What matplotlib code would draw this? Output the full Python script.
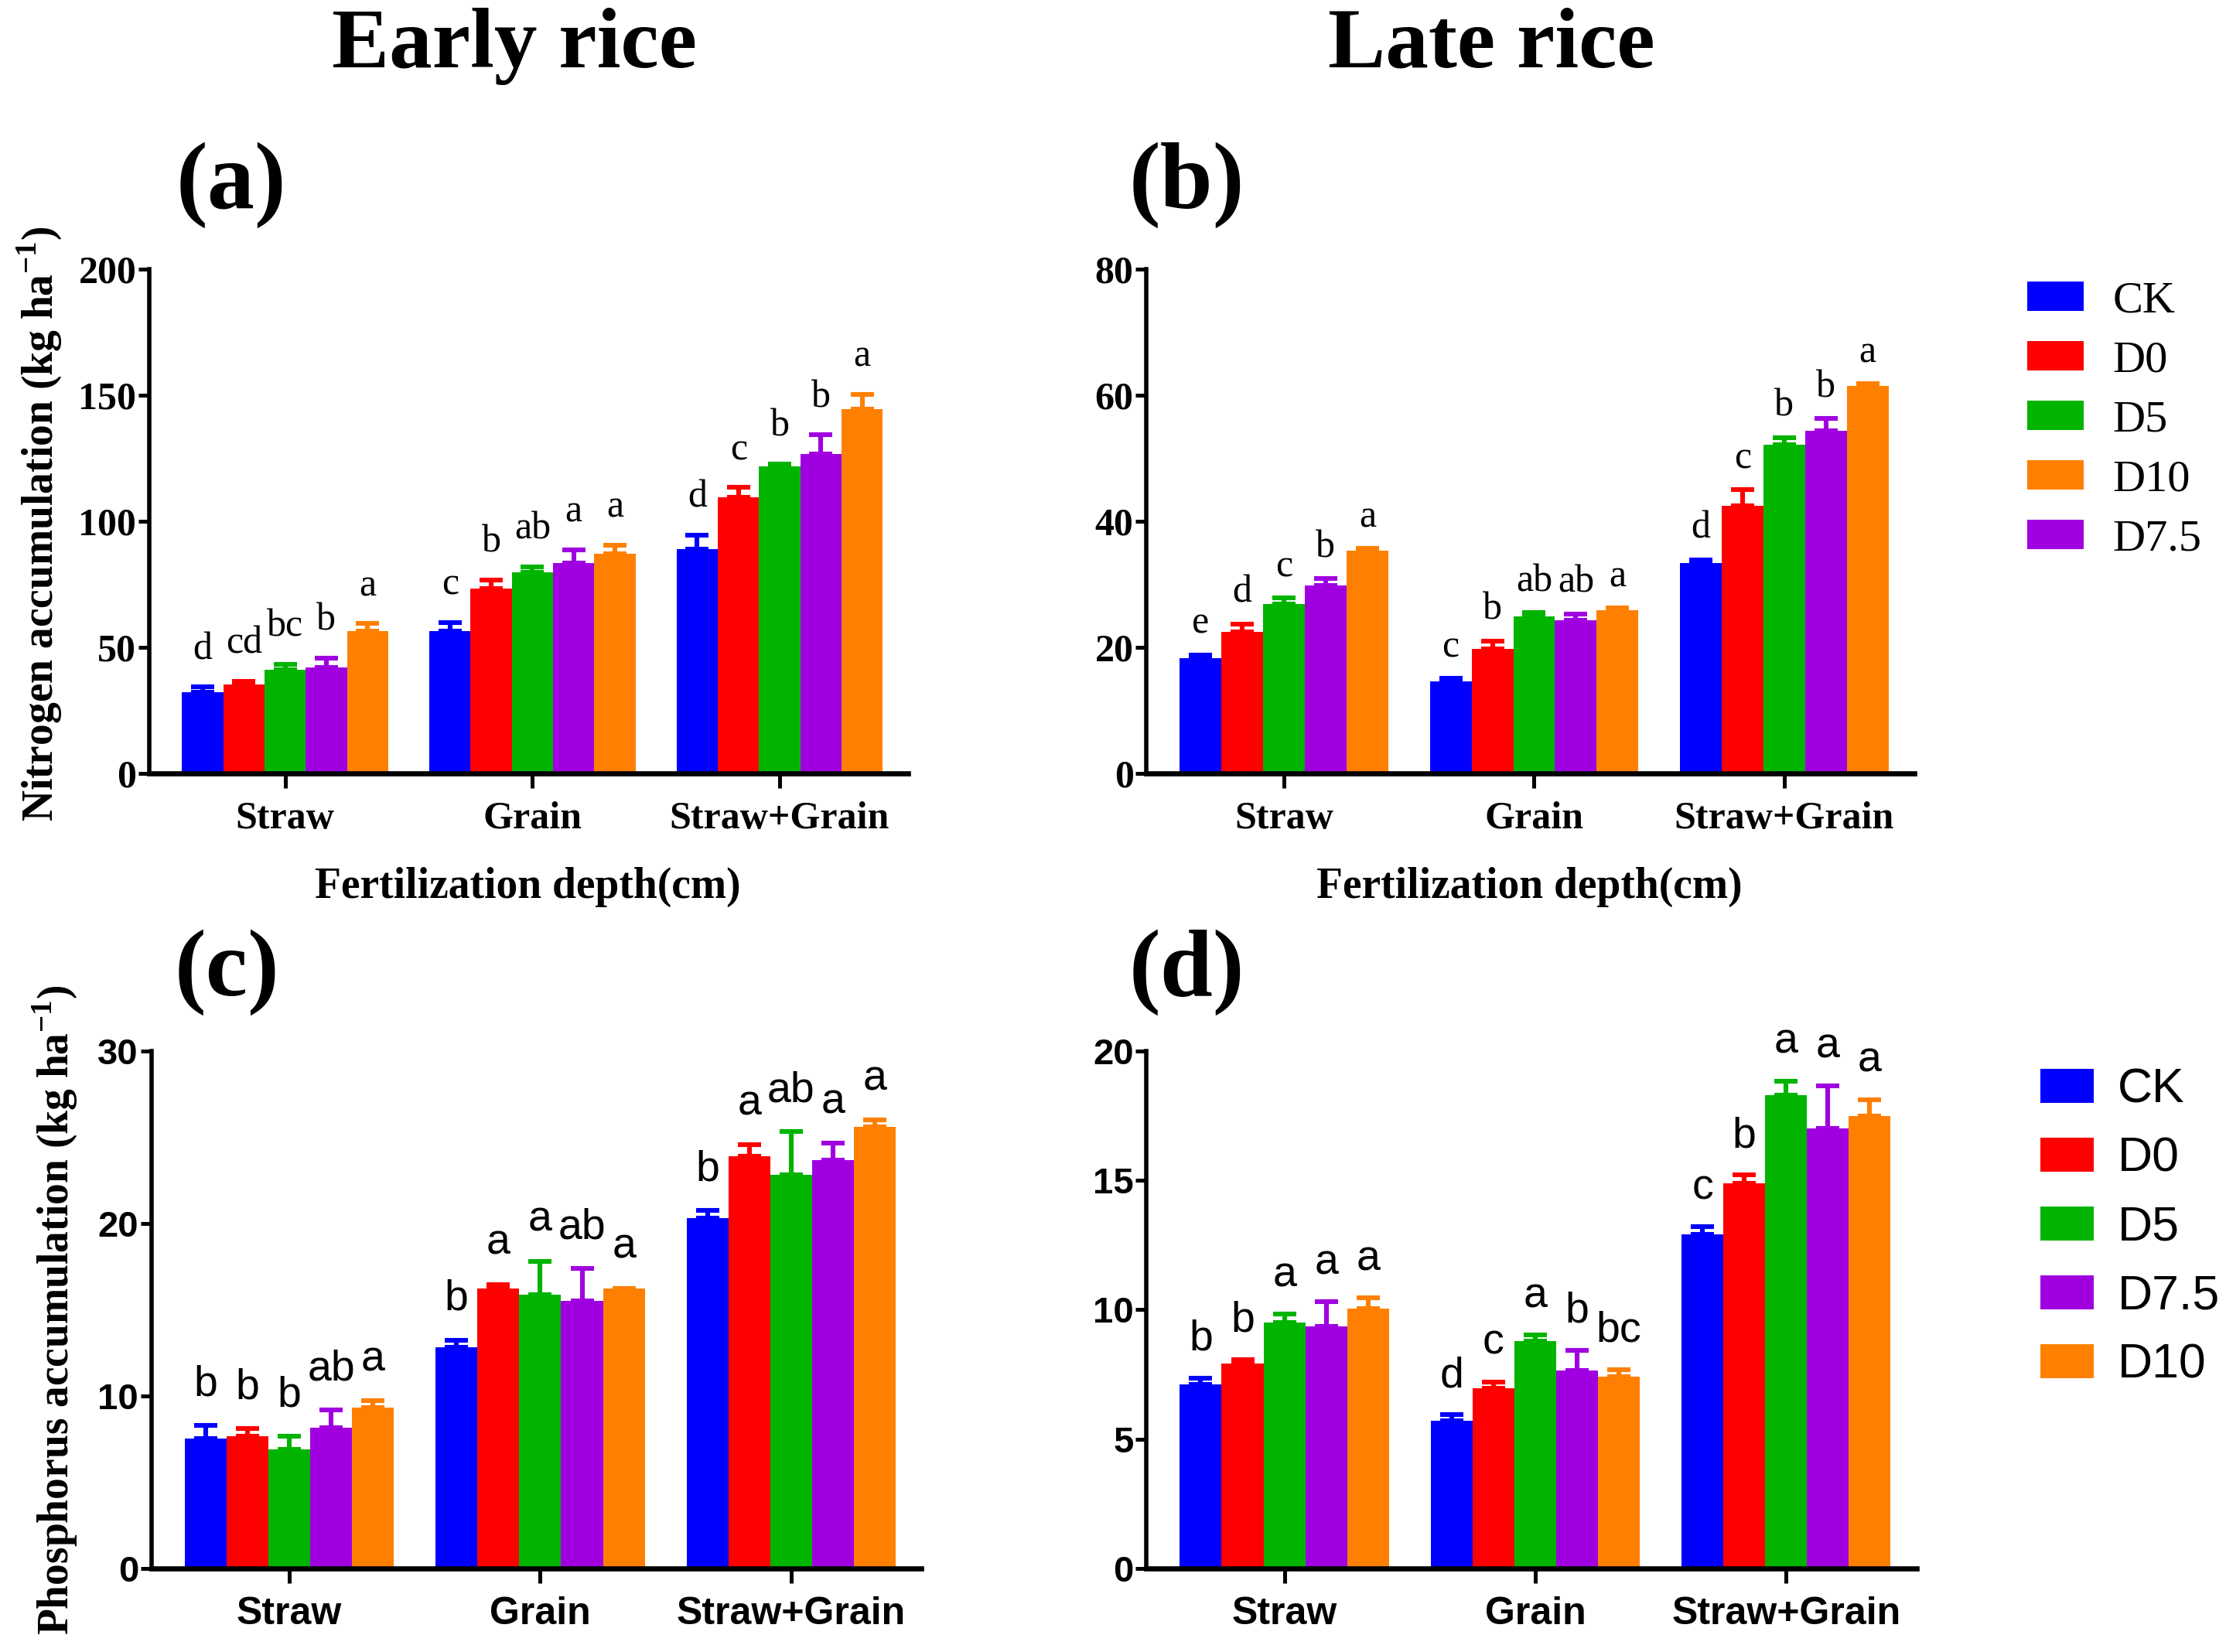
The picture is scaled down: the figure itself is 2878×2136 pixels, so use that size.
import matplotlib.pyplot as plt
import numpy as np

plt.rcParams['mathtext.fontset'] = 'custom'
plt.rcParams['mathtext.rm'] = 'Liberation Serif'
plt.rcParams['mathtext.bf'] = 'Liberation Serif:bold'

SERIF = 'Liberation Serif'
SANS = 'Liberation Sans'

parts = ['Straw', 'Grain', 'Straw+Grain']
treatments = ['CK', 'D0', 'D5', 'D7.5', 'D10']
colors = ['#0000ff', '#ff0000', '#00b400', '#a000e0', '#ff8000']

# rows = treatments (CK, D0, D5, D7.5, D10), cols = Straw, Grain, Straw+Grain
n_early = [[32.0, 56.4, 89.0],
           [35.1, 73.2, 109.4],
           [40.9, 79.8, 121.7],
           [42.0, 83.5, 126.8],
           [56.4, 87.1, 144.4]]
n_early_err = [[2.2, 3.4, 5.5],
               [1.4, 3.5, 4.0],
               [2.4, 2.1, 1.1],
               [3.7, 5.2, 7.5],
               [3.0, 3.5, 6.0]]
n_early_let = [['d', 'c', 'd'],
               ['cd', 'b', 'c'],
               ['bc', 'ab', 'b'],
               ['b', 'a', 'b'],
               ['a', 'a', 'a']]

n_late = [[18.3, 14.6, 33.3],
          [22.4, 19.7, 42.5],
          [26.9, 24.9, 52.2],
          [29.8, 24.3, 54.4],
          [35.3, 25.9, 61.5]]
n_late_err = [[0.5, 0.4, 0.6],
              [1.3, 1.3, 2.5],
              [0.9, 0.6, 1.1],
              [1.1, 1.0, 1.9],
              [0.4, 0.3, 0.3]]
n_late_let = [['e', 'c', 'd'],
              ['d', 'b', 'c'],
              ['c', 'ab', 'b'],
              ['b', 'ab', 'b'],
              ['a', 'a', 'a']]

p_early = [[7.52, 12.81, 20.33],
           [7.65, 16.25, 23.90],
           [6.90, 15.85, 22.83],
           [8.14, 15.52, 23.69],
           [9.32, 16.25, 25.60]]
p_early_err = [[0.75, 0.43, 0.43],
               [0.46, 0.21, 0.68],
               [0.75, 1.96, 2.50],
               [1.05, 1.86, 0.97],
               [0.40, 0.00, 0.40]]
p_early_let = [['b', 'b', 'b'],
               ['b', 'a', 'a'],
               ['b', 'a', 'ab'],
               ['ab', 'ab', 'a'],
               ['a', 'a', 'a']]

p_late = [[7.11, 5.71, 12.91],
          [7.91, 6.96, 14.88],
          [9.50, 8.79, 18.30],
          [9.34, 7.64, 17.02],
          [10.05, 7.41, 17.50]]
p_late_err = [[0.25, 0.22, 0.30],
              [0.16, 0.24, 0.33],
              [0.32, 0.23, 0.54],
              [0.96, 0.79, 1.64],
              [0.40, 0.27, 0.63]]
p_late_let = [['b', 'd', 'c'],
              ['b', 'c', 'b'],
              ['a', 'a', 'a'],
              ['a', 'b', 'a'],
              ['a', 'bc', 'a']]


def draw_panel(ax, means, errs, lets, ymax, yticks, tfam, tsize, lfam, lsize, loff):
    w = 1 / 6
    x = np.arange(len(parts))
    bars = []
    for i, t in enumerate(treatments):
        xi = x + (i - 2) * w
        m = np.array(means[i])
        e = np.array(errs[i])
        b = ax.bar(xi, m, width=w, color=colors[i], label=t, zorder=2)
        bars.append(b)
        ax.errorbar(xi, m, yerr=[np.zeros_like(e), e], fmt='none', ecolor=colors[i],
                    elinewidth=2.2, capsize=5.5, capthick=2.2, zorder=3)
        for j in range(len(parts)):
            ax.annotate(lets[i][j], (xi[j], m[j] + e[j]), xytext=(0, loff),
                        textcoords='offset points', ha='center', va='baseline',
                        family=lfam, fontsize=lsize)
    ax.set_xlim(-0.55, 2.52)
    ax.set_ylim(0, ymax)
    ax.set_yticks(yticks)
    ax.set_xticks(x)
    ax.set_xticklabels(parts)
    for s in ['top', 'right']:
        ax.spines[s].set_visible(False)
    ax.spines['left'].set_linewidth(2.0)
    ax.spines['bottom'].set_linewidth(2.4)
    ax.tick_params(axis='y', length=5, width=1.8, pad=1)
    ax.tick_params(axis='x', length=7, width=1.8, pad=6)
    for lab in ax.get_yticklabels():
        lab.set_family(tfam)
        lab.set_fontweight('bold')
        lab.set_fontsize(tsize)
    for lab in ax.get_xticklabels():
        lab.set_family(tfam)
        lab.set_fontweight('bold')
        lab.set_fontsize(18)
    return bars


fig = plt.figure(figsize=(14.39, 10.68), dpi=200)

ax_a = fig.add_axes([0.067, 0.532, 0.341, 0.305])
ax_b = fig.add_axes([0.515, 0.532, 0.345, 0.305])
ax_c = fig.add_axes([0.068, 0.0507, 0.346, 0.313])
ax_d = fig.add_axes([0.515, 0.0507, 0.346, 0.313])

draw_panel(ax_a, n_early, n_early_err, n_early_let, 200, [0, 50, 100, 150, 200],
           SERIF, 18, SERIF, 18, 13)
bars_b = draw_panel(ax_b, n_late, n_late_err, n_late_let, 80, [0, 20, 40, 60, 80],
                    SERIF, 18, SERIF, 18, 10)
draw_panel(ax_c, p_early, p_early_err, p_early_let, 30, [0, 10, 20, 30],
           SANS, 17, SANS, 20, 14)
bars_d = draw_panel(ax_d, p_late, p_late_err, p_late_let, 20, [0, 5, 10, 15, 20],
                    SANS, 17, SANS, 20, 13)

# column titles and panel tags
fig.text(0.231, 0.972, 'Early rice', ha='center', va='center', family=SERIF,
         fontweight='bold', fontsize=40)
fig.text(0.670, 0.972, 'Late rice', ha='center', va='center', family=SERIF,
         fontweight='bold', fontsize=40)
for tag, xx, yy in [('(a)', 0.104, 0.888), ('(b)', 0.533, 0.888),
                    ('(c)', 0.102, 0.4115), ('(d)', 0.533, 0.4115)]:
    fig.text(xx, yy, tag, ha='center', va='center', family=SERIF,
             fontweight='bold', fontsize=44)

fig.text(0.237, 0.463, 'Fertilization depth(cm)', ha='center', va='center',
         family=SERIF, fontweight='bold', fontsize=20)
fig.text(0.687, 0.463, 'Fertilization depth(cm)', ha='center', va='center',
         family=SERIF, fontweight='bold', fontsize=20)

fig.text(0.018, 0.683, r'Nitrogen accumulation (kg ha$^{\mathbf{-1}}$)', rotation=90,
         ha='center', va='center', family=SERIF, fontweight='bold', fontsize=20)
fig.text(0.025, 0.207, r'Phosphorus accumulation (kg ha$^{\mathbf{-1}}$)', rotation=90,
         ha='center', va='center', family=SERIF, fontweight='bold', fontsize=20)

# legends (b has its own order)
order_b = [0, 1, 2, 4, 3]
fig.legend([bars_b[k] for k in order_b], [treatments[k] for k in order_b],
           loc='upper left', bbox_to_anchor=(0.9107, 0.830), frameon=False,
           prop={'family': SERIF, 'size': 21}, handlelength=1.26, handleheight=0.63,
           handletextpad=0.63, labelspacing=0.43, borderpad=0, borderaxespad=0)
fig.legend(bars_d, treatments,
           loc='upper left', bbox_to_anchor=(0.9165, 0.354), frameon=False,
           prop={'family': SANS, 'size': 22.5}, handlelength=1.11, handleheight=0.7,
           handletextpad=0.5, labelspacing=0.48, borderpad=0, borderaxespad=0)

fig.savefig('out.png', dpi=200)
